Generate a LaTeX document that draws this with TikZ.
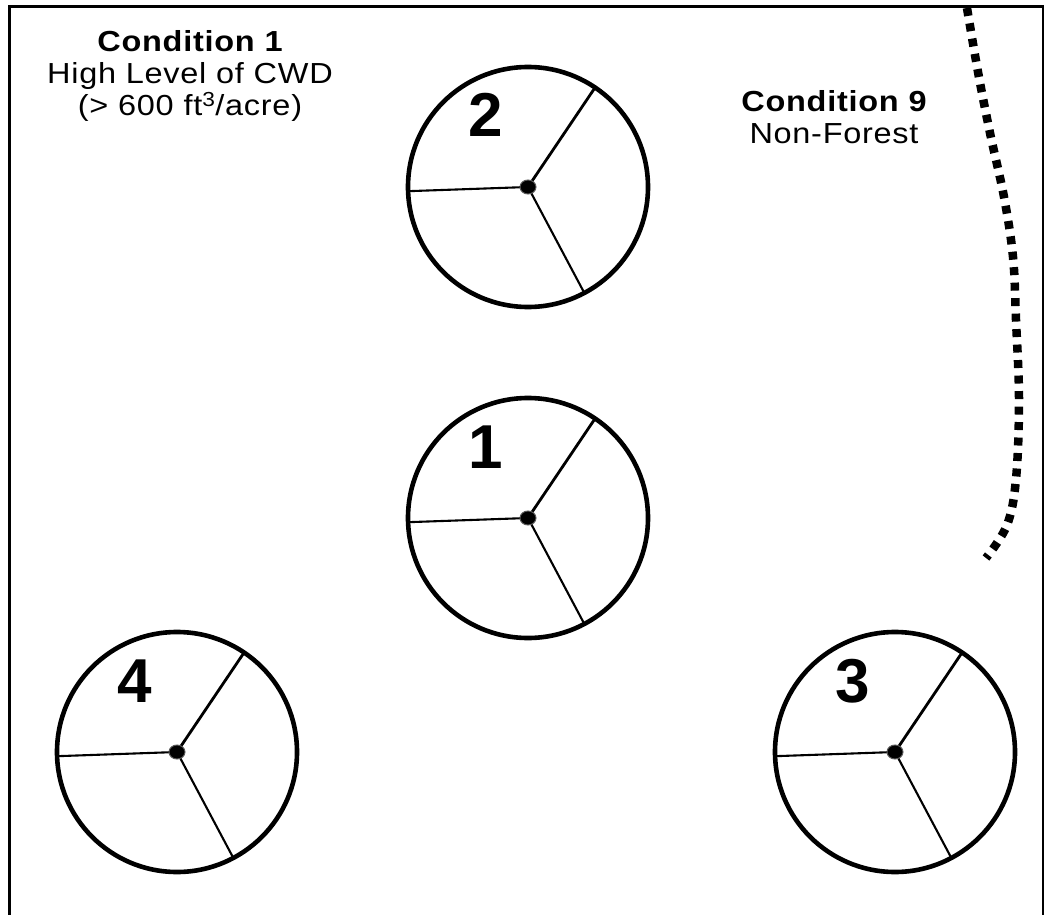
\documentclass[tikz,border=0pt]{standalone}
\usepackage{fontspec}
\setmainfont{Liberation Sans}
\newfontfamily\labelfont[FakeStretch=1.12,LetterSpace=2.5]{Liberation Sans}
\begin{document}
\begin{tikzpicture}[x=1pt,y=-1pt,
  frame/.style={line width=2.7pt, line join=miter},
  plotring/.style={circle, draw, line width=4.6pt, minimum size=240pt, inner sep=0pt, outer sep=0pt},
  spoke/.style={line width=2.1pt},
  mainspoke/.style={line width=2.8pt},
  centerdot/.style={fill=black, draw=black!65, line width=1pt},
  digit/.style={font=\fontsize{62}{62}\selectfont\bfseries, anchor=base, inner sep=0pt},
  condhead/.style={font=\labelfont\fontsize{29}{29}\selectfont\bfseries, anchor=base, inner sep=0pt},
  condtext/.style={font=\labelfont\fontsize{29}{29}\selectfont, anchor=base, inner sep=0pt},
  boundary/.style={line width=8.5pt, dash pattern=on 8pt off 7.5pt}
]
\useasboundingbox (0,0) rectangle (1052,915);

% open frame: left, top and right edges
\draw[frame] (9.5,915) -- (9.5,6.5) -- (1043,6.5) -- (1043,915);

% subplots: name / centre x / centre y / number
\foreach \n/\cx/\cy/\lab in {p2/528/187/2, p1/528/518/1, p4/177/752/4, p3/895/752/3}{
  \node[plotring] (\n) at (\cx,\cy) {};
  \draw[mainspoke] (\n.center) -- (\n.56);
  \draw[spoke] (\n.center) -- (\n.-62);
  \draw[spoke] (\n.center) -- (\n.182);
  \fill[centerdot] (\n.center) ellipse (8 and 7);
  \node[digit] (\n-num) at ([xshift=-42pt,yshift=50pt]\n.center) {\lab};
}

% condition labels
\node[condhead] (c1a) at (190,52) {Condition 1};
\node[condtext] (c1b) at (190,84) {High Level of CWD};
\node[condtext] (c1c) at (190,116) {(> 600 ft\textsuperscript{3}/acre)};

\node[condhead] (c9a) at (834,112) {Condition 9};
\node[condtext] (c9b) at (834,144) {Non-Forest};

% condition boundary
\draw[boundary] plot[smooth, tension=0.6] coordinates {
  (967,8) (978,72) (990,133) (1004,197) (1013,257) (1016,320)
  (1019,400) (1016,479) (1007,525) (986,558)};
\end{tikzpicture}
\end{document}
